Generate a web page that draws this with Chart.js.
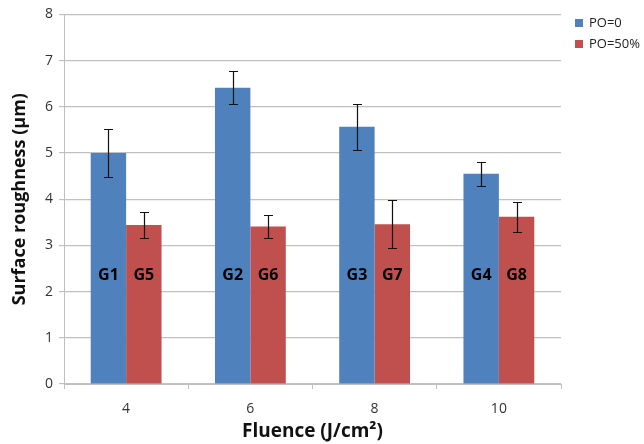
<!DOCTYPE html>
<html>
<head>
<meta charset="utf-8">
<script src="https://cdn.jsdelivr.net/npm/chart.js@4"></script>
<style>
html,body{margin:0;padding:0;background:#fff;}
#wrap{width:644px;height:444px;}
</style>
</head>
<body>
<div id="wrap"><canvas id="c" width="644" height="444"></canvas></div>
<script>
const categories = ['4', '6', '8', '10'];
const seriesNames = ['PO=0', 'PO=50%'];
const po0 = [5.0, 6.41, 5.57, 4.55];
const po50 = [3.44, 3.41, 3.46, 3.62];
const po0Err = [0.53, 0.36, 0.5, 0.26];
const po50Err = [0.29, 0.25, 0.52, 0.32];
const po0Labels = ['G1', 'G2', 'G3', 'G4'];
const po50Labels = ['G5', 'G6', 'G7', 'G8'];
const groupLabelValue = 2.35;
const yTicks = [0, 1, 2, 3, 4, 5, 6, 7, 8];

const FONT = '"Open Sans", sans-serif';

const errorBarPlugin = {
  id: 'errorBars',
  afterDatasetsDraw(chart) {
    const ctx = chart.ctx;
    const y = chart.scales.y;
    const errs = [po0Err, po50Err];
    const labels = [po0Labels, po50Labels];
    chart.data.datasets.forEach((ds, di) => {
      const meta = chart.getDatasetMeta(di);
      meta.data.forEach((bar, i) => {
        const v = ds.data[i];
        const e = errs[di][i];
        const yt = Math.round(y.getPixelForValue(v + e)) + 0.5;
        const yb = Math.round(y.getPixelForValue(v - e)) + 0.5;
        const x = Math.round(bar.x) + 0.5;
        ctx.save();
        ctx.strokeStyle = '#111';
        ctx.lineWidth = 1.2;
        ctx.beginPath();
        ctx.moveTo(x, yt); ctx.lineTo(x, yb);
        ctx.moveTo(x - 4.5, yt); ctx.lineTo(x + 4.5, yt);
        ctx.moveTo(x - 4.5, yb); ctx.lineTo(x + 4.5, yb);
        ctx.stroke();
        ctx.fillStyle = '#000';
        ctx.font = 'bold 16px ' + FONT;
        ctx.textAlign = 'center';
        ctx.textBaseline = 'middle';
        ctx.fillText(labels[di][i], bar.x, y.getPixelForValue(groupLabelValue));
        ctx.restore();
      });
    });
  }
};

const legendPlugin = {
  id: 'sideLegend',
  afterDraw(chart) {
    const ctx = chart.ctx;
    const area = chart.chartArea;
    ctx.save();
    ctx.font = '13px ' + FONT;
    ctx.textBaseline = 'middle';
    ctx.textAlign = 'left';
    chart.data.datasets.forEach((ds, i) => {
      const cy = 23 + i * 21;
      const bx = area.right + 14;
      ctx.fillStyle = ds.backgroundColor;
      ctx.fillRect(bx, cy - 4, 8, 8);
      ctx.fillStyle = '#222';
      ctx.fillText(ds.label, bx + 14, cy);
    });
    ctx.restore();
  }
};

new Chart(document.getElementById('c'), {
  type: 'bar',
  data: {
    labels: categories,
    datasets: [
      { label: seriesNames[0], data: po0, backgroundColor: '#4f81bd', borderWidth: 0 },
      { label: seriesNames[1], data: po50, backgroundColor: '#c0504d', borderWidth: 0 }
    ]
  },
  options: {
    responsive: false,
    animation: false,
    devicePixelRatio: 1,
    layout: { padding: { top: 12, right: 83, left: 0, bottom: 1 } },
    datasets: { bar: { categoryPercentage: 0.57, barPercentage: 1.0 } },
    plugins: {
      legend: { display: false },
      tooltip: { enabled: false }
    },
    scales: {
      x: {
        afterFit(scale) { scale.height = 59; },
        grid: { display: true, drawOnChartArea: false, drawTicks: true, tickLength: 5, color: '#bfbfbf', offset: true },
        border: { color: '#bfbfbf' },
        ticks: { color: '#333', font: { family: FONT, size: 14, lineHeight: 1.0 }, padding: 13 },
        title: { display: true, text: 'Fluence (J/cm²)', color: '#111', font: { family: FONT, size: 19, weight: 'bold', lineHeight: 1.2 }, padding: { top: 0, bottom: 0 } }
      },
      y: {
        min: 0, max: 8,
        afterBuildTicks(scale) { scale.ticks = yTicks.map(v => ({ value: v })); },
        afterFit(scale) { scale.width = 64; },
        grid: { color: '#c0c0c0', lineWidth: 1.2, tickLength: 5 },
        border: { color: '#bfbfbf' },
        ticks: { color: '#333', font: { family: FONT, size: 14 }, padding: 6 },
        title: { display: true, text: 'Surface roughness (μm)', color: '#111', font: { family: FONT, size: 18, weight: 'bold' }, padding: { top: 9, bottom: 0 } }
      }
    }
  },
  plugins: [errorBarPlugin, legendPlugin]
});
</script>
</body>
</html>
